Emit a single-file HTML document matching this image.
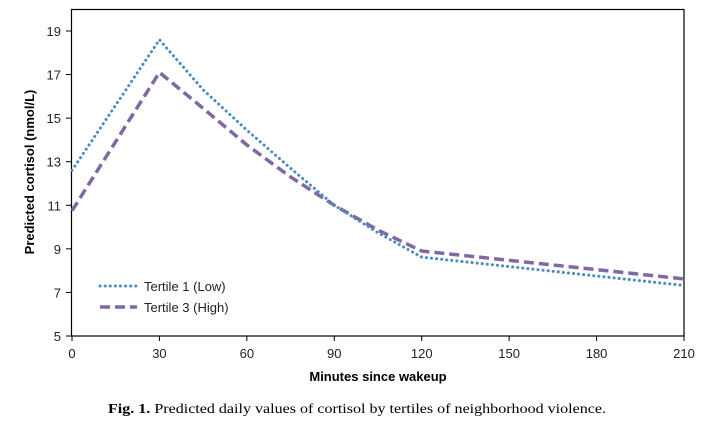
<!DOCTYPE html>
<html><head><meta charset="utf-8"><style>
body{margin:0;background:#fff;width:706px;height:426px;overflow:hidden}
svg{display:block}
</style></head><body>
<svg id="chart" width="706" height="426" xmlns="http://www.w3.org/2000/svg" font-family="'Liberation Sans', sans-serif">
<rect x="71.5" y="9.5" width="612.5" height="326.5" fill="none" stroke="#000" stroke-width="1.2"/>
<g id="axes"></g>
<g id="series"></g>
<text transform="translate(34,172) rotate(-90)" text-anchor="middle" font-size="13" font-weight="bold">Predicted cortisol (nmol/L)</text>
<text x="378" y="381" text-anchor="middle" font-size="13" font-weight="bold">Minutes since wakeup</text>
<g>
<line x1="100" y1="286" x2="137" y2="286" stroke="#4a8cc0" stroke-width="3" stroke-dasharray="0.1 5" stroke-linecap="round"/>
<text x="144" y="291" font-size="13" fill="#222">Tertile 1 (Low)</text>
<line x1="100" y1="307" x2="137" y2="307" stroke="#8068a3" stroke-width="3.5" stroke-dasharray="10 5"/>
<text x="144" y="312" font-size="13" fill="#222">Tertile 3 (High)</text>
</g>
<text x="357" y="413" text-anchor="middle" font-size="14" textLength="498" lengthAdjust="spacingAndGlyphs" font-family="'Liberation Serif', serif"><tspan font-weight="bold">Fig. 1.</tspan> Predicted daily values of cortisol by tertiles of neighborhood violence.</text>
</svg>
<script>
const minutes=[0,30,45,60,75,90,105,120,210];
const tertile1=[12.6,18.6,16.3,14.45,12.7,11.0,9.74,8.62,7.32];
const tertile3=[10.75,17.1,15.45,13.77,12.3,11.0,9.86,8.9,7.62];
const xTicks=[0,30,60,90,120,150,180,210];
const yTicks=[5,7,9,11,13,15,17,19];
const NS='http://www.w3.org/2000/svg';
const X=m=>72+m*(684-72)/210;
const Y=v=>336-(v-5)*(336-31)/14;
const axes=document.getElementById('axes');
xTicks.forEach(t=>{
 const l=document.createElementNS(NS,'line');
 l.setAttribute('x1',X(t));l.setAttribute('x2',X(t));l.setAttribute('y1',336);l.setAttribute('y2',341);l.setAttribute('stroke','#000');
 
 
 axes.appendChild(l);
 const tx=document.createElementNS(NS,'text');
 tx.setAttribute('x',X(t));tx.setAttribute('y',358);tx.setAttribute('text-anchor','middle');tx.setAttribute('font-size','13');tx.setAttribute('fill','#222');
 tx.textContent=t;
 
 
 axes.appendChild(tx);
});
yTicks.forEach(t=>{
 const l=document.createElementNS(NS,'line');
 l.setAttribute('x1',66);l.setAttribute('x2',72);l.setAttribute('y1',Y(t));l.setAttribute('y2',Y(t));l.setAttribute('stroke','#000');
 
 
 axes.appendChild(l);
 const tx=document.createElementNS(NS,'text');
 tx.setAttribute('x',61);tx.setAttribute('y',Y(t)+5);tx.setAttribute('text-anchor','end');tx.setAttribute('font-size','13');tx.setAttribute('fill','#222');
 tx.textContent=t;
 
 
 axes.appendChild(tx);
});
const series=document.getElementById('series');
function draw(vals,color,dash,w,name,cap){
 const p=document.createElementNS(NS,'polyline');
 p.setAttribute('points',minutes.map((m,i)=>X(m)+','+Y(vals[i])).join(' '));
 p.setAttribute('fill','none');p.setAttribute('stroke',color);p.setAttribute('stroke-width',w);
 p.setAttribute('stroke-dasharray',dash);p.setAttribute('stroke-linecap',cap);
 
 
 series.appendChild(p);
}
draw(tertile3,'#8068a3','10 5',3.5,'line-tertile3','butt');
draw(tertile1,'#4a8cc0','0.1 5',3,'line-tertile1','round');
</script>
</body></html>
